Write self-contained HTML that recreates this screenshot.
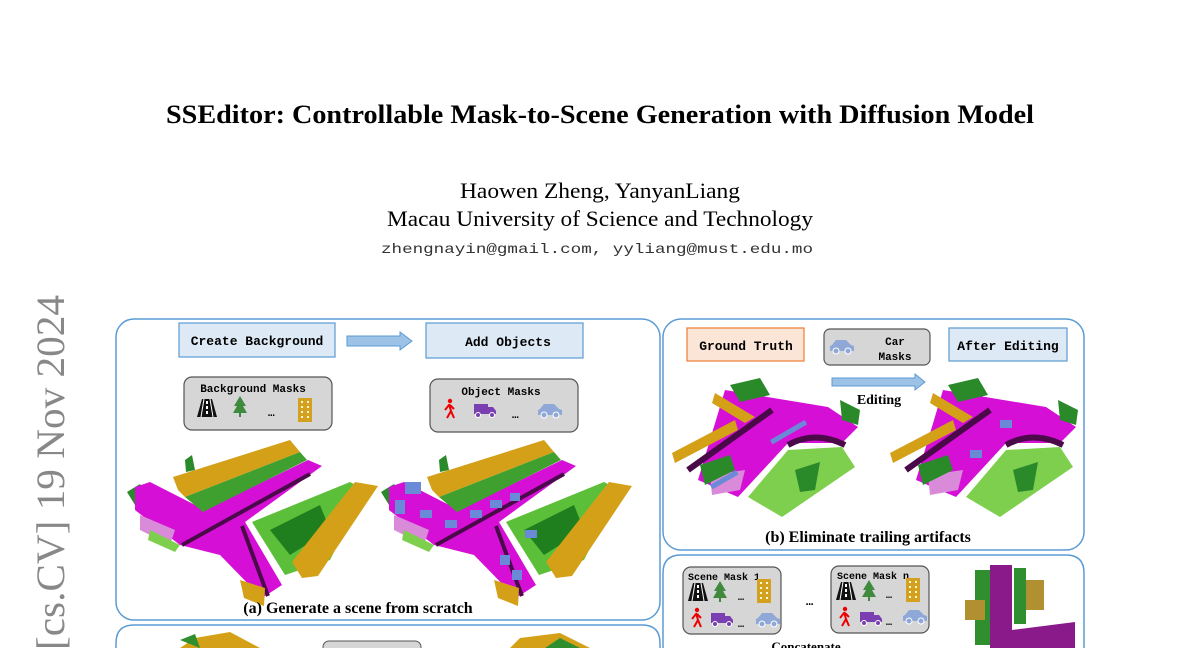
<!DOCTYPE html>
<html><head><meta charset="utf-8"><style>
html,body{margin:0;padding:0;background:#fff;width:1200px;height:648px;overflow:hidden}
svg{display:block}
.mono{font-family:"Liberation Mono","DejaVu Sans Mono",monospace;font-weight:bold}
.serif{font-family:"Liberation Serif",serif}
</style></head><body>
<svg width="1200" height="648" viewBox="0 0 1200 648" xmlns="http://www.w3.org/2000/svg">
<defs>
<g id="sa">
  <polygon points="127,492 140,484 150,500 135,505" fill="#2a8a2a"/>
  <polygon points="135,487 150,482 205,510 308,460 322,466 245,522 282,585 262,598 220,555 180,545 135,510" fill="#d60fd6"/>
  <polyline points="182,545 310,474" stroke="#4a0a4a" stroke-width="4" fill="none"/>
  <polyline points="242,526 268,596" stroke="#4a0a4a" stroke-width="4" fill="none"/>
  <polygon points="173,477 290,440 300,452 185,497 178,490" fill="#d4a017"/>
  <polygon points="185,497 300,452 307,460 203,512" fill="#3f9f2f"/>
  <polygon points="140,515 175,530 170,545 140,530" fill="#d98ad9"/>
  <polygon points="150,530 180,545 175,552 148,540" fill="#7fcf4f"/>
  <polygon points="252,522 350,482 365,490 330,560 285,575" fill="#5cbf3a"/>
  <polygon points="270,530 320,505 330,530 290,555" fill="#1f7f1f"/>
  <polygon points="292,562 355,482 378,486 318,576 302,578" fill="#d4a017"/>
  <polygon points="240,580 265,588 264,606 244,598" fill="#d4a017"/>
  <polygon points="185,460 192,455 195,470 186,472" fill="#2a8a2a"/>
</g>
<g id="sb">
  <polygon points="725,390 828,407 858,427 842,443 788,443 738,497 698,480" fill="#d60fd6"/>
  <polyline points="688,470 772,410" stroke="#4a0a4a" stroke-width="6" fill="none"/>
  <path d="M788,445 Q815,430 845,445" stroke="#4a0a4a" stroke-width="6" fill="none"/>
  <polygon points="788,450 842,447 855,467 782,517 748,497" fill="#7fcf4f"/>
  <polygon points="795,470 820,462 815,490 800,492" fill="#2a8a2a"/>
  <polygon points="672,453 735,420 738,430 675,463" fill="#d4a017"/>
  <polygon points="715,393 755,417 745,423 712,403" fill="#d4a017"/>
  <polygon points="730,385 760,378 770,395 740,402" fill="#2a8a2a"/>
  <polygon points="710,475 745,470 740,490 712,495" fill="#d98ad9"/>
  <polygon points="840,400 860,410 858,425 842,420" fill="#2a8a2a"/>
  <polygon points="700,465 730,455 735,470 705,485" fill="#2a8a2a"/>
</g>
<g id="car"><path d="M2,8 L6,3 L16,3 L21,8 L24,9 L24,14 L0,14 L0,9 Z" fill="#8fa8d8"/><circle cx="6" cy="14" r="3" fill="#8fa8d8" stroke="#fff"/><circle cx="18" cy="14" r="3" fill="#8fa8d8" stroke="#fff"/></g>
<g id="truck"><rect x="0" y="2" width="14" height="10" fill="#7a3fb0"/><path d="M14,5 L19,5 L22,9 L22,12 L14,12Z" fill="#7a3fb0"/><circle cx="4" cy="13" r="2.5" fill="#7a3fb0" stroke="#fff"/><circle cx="18" cy="13" r="2.5" fill="#7a3fb0" stroke="#fff"/></g>
<g id="ped"><circle cx="7" cy="2" r="2.2" fill="#e00"/><path d="M6,5 L8,12 L4,19 M8,12 L11,19 M6,6 L2,11 M7,6 L11,10" stroke="#e00" stroke-width="2" fill="none"/></g>
<g id="road"><path d="M0,18 L5,0 L15,0 L20,18 Z" fill="#111"/><path d="M10,2 L10,17" stroke="#fff" stroke-width="2" stroke-dasharray="3,2"/><path d="M4,18 L7,0" stroke="#fff" stroke-width="1"/><path d="M16,18 L13,0" stroke="#fff" stroke-width="1"/></g>
<g id="tree"><path d="M7,0 L13,10 L10,10 L14,17 L0,17 L4,10 L1,10 Z" fill="#3f8a3f"/><rect x="6" y="17" width="2" height="4" fill="#3f8a3f"/></g>
<g id="bldg"><rect x="0" y="0" width="14" height="24" fill="#d4a020"/><path d="M3,4h2M9,4h2M3,9h2M9,9h2M3,14h2M9,14h2M3,19h2M9,19h2" stroke="#fff8d0" stroke-width="2"/></g>
</defs>

<text x="166" y="123" textLength="868" lengthAdjust="spacingAndGlyphs" class="serif" font-weight="bold" font-size="26">SSEditor: Controllable Mask-to-Scene Generation with Diffusion Model</text>
<text x="460" y="198" textLength="280" lengthAdjust="spacingAndGlyphs" class="serif" font-size="22">Haowen Zheng, YanyanLiang</text>
<text x="387" y="226" textLength="426" lengthAdjust="spacingAndGlyphs" class="serif" font-size="22">Macau University of Science and Technology</text>
<text x="381" y="253" textLength="432" lengthAdjust="spacingAndGlyphs" font-family="Liberation Mono,monospace" font-size="14" fill="#333">zhengnayin@gmail.com, yyliang@must.edu.mo</text>

<text transform="translate(64,650) rotate(-90)" textLength="355" lengthAdjust="spacingAndGlyphs" class="serif" font-size="40" fill="#888">[cs.CV]  19 Nov 2024</text>

<!-- panel a -->
<rect x="116" y="319" width="544" height="301" rx="18" fill="none" stroke="#5b9bd5" stroke-width="1.5"/>
<rect x="179" y="323" width="156" height="34" fill="#dde9f5" stroke="#5b9bd5" stroke-width="1.2"/>
<text x="257" y="345" text-anchor="middle" class="mono" font-size="13">Create Background</text>
<path d="M347,336 L400,336 L400,332 L412,341 L400,350 L400,346 L347,346 Z" fill="#9cc2e5" stroke="#5b9bd5"/>
<rect x="426" y="323" width="157" height="35" fill="#dde9f5" stroke="#5b9bd5" stroke-width="1.2"/>
<text x="508" y="346" text-anchor="middle" class="mono" font-size="13">Add Objects</text>

<rect x="184" y="377" width="148" height="53" rx="8" fill="#d6d6d6" stroke="#555" stroke-width="1.2"/>
<text x="253" y="392" text-anchor="middle" class="mono" font-size="11">Background Masks</text>
<use href="#road" x="197" y="399"/><use href="#tree" x="233" y="396"/>
<text x="268" y="416" class="mono" font-size="11">…</text><use href="#bldg" x="298" y="398"/>
<rect x="430" y="379" width="148" height="53" rx="8" fill="#d6d6d6" stroke="#555" stroke-width="1.2"/>
<text x="501" y="395" text-anchor="middle" class="mono" font-size="11">Object Masks</text>
<use href="#ped" x="443" y="399"/><use href="#truck" x="474" y="402"/>
<text x="512" y="418" class="mono" font-size="11">…</text><use href="#car" x="538" y="401"/>

<use href="#sa"/>
<use href="#sa" x="254"/>
<g fill="#6a8ad8"><rect x="405" y="482" width="16" height="12"/><rect x="395" y="500" width="10" height="14"/><rect x="420" y="510" width="12" height="8"/><rect x="445" y="520" width="12" height="8"/><rect x="470" y="510" width="12" height="8"/><rect x="490" y="500" width="12" height="8"/><rect x="510" y="493" width="10" height="8"/><rect x="525" y="530" width="12" height="8"/><rect x="500" y="555" width="10" height="10"/><rect x="512" y="570" width="10" height="10"/></g>
<text x="358" y="613" text-anchor="middle" class="serif" font-weight="bold" font-size="16">(a) Generate a scene from scratch</text>

<!-- panel a2 -->
<path d="M116,650 L116,643 Q116,625 134,625 L642,625 Q660,625 660,643 L660,650" fill="none" stroke="#5b9bd5" stroke-width="1.5"/>
<rect x="323" y="641" width="98" height="20" rx="6" fill="#d6d6d6" stroke="#555"/>
<polygon points="180,648 195,638 230,632 260,648" fill="#d4a017"/><polygon points="180,640 195,634 200,648" fill="#2f8f2f"/>
<polygon points="510,648 520,638 560,633 590,648" fill="#d4a017"/><polygon points="545,648 560,638 580,648" fill="#2f8f2f"/>

<!-- panel b -->
<rect x="663" y="319" width="421" height="231" rx="18" fill="none" stroke="#5b9bd5" stroke-width="1.5"/>
<rect x="687" y="328" width="117" height="33" fill="#fbe5d6" stroke="#ed7d31" stroke-width="1.2"/>
<text x="746" y="350" text-anchor="middle" class="mono" font-size="13">Ground Truth</text>
<rect x="824" y="329" width="106" height="36" rx="6" fill="#d6d6d6" stroke="#555" stroke-width="1.2"/>
<use href="#car" x="830" y="337"/>
<text x="895" y="345" text-anchor="middle" class="mono" font-size="11">Car</text>
<text x="895" y="360" text-anchor="middle" class="mono" font-size="11">Masks</text>
<rect x="949" y="328" width="118" height="33" fill="#dde9f5" stroke="#5b9bd5" stroke-width="1.2"/>
<text x="1008" y="350" text-anchor="middle" class="mono" font-size="13">After Editing</text>
<path d="M832,378 L915,378 L915,374 L925,382 L915,390 L915,386 L832,386 Z" fill="#9cc2e5" stroke="#5b9bd5"/>
<text x="879" y="404" text-anchor="middle" class="serif" font-weight="bold" font-size="14">Editing</text>
<use href="#sb"/>
<use href="#sb" x="218"/>
<g fill="#6a8ad8"><rect x="770" y="440" width="40" height="5" transform="rotate(-30 770 440)"/><rect x="710" y="485" width="30" height="5" transform="rotate(-30 710 485)"/><rect x="1000" y="420" width="12" height="8"/><rect x="970" y="450" width="12" height="8"/></g>
<text x="868" y="542" text-anchor="middle" class="serif" font-weight="bold" font-size="16">(b) Eliminate trailing artifacts</text>

<!-- panel c -->
<path d="M663,650 L663,573 Q663,555 681,555 L1066,555 Q1084,555 1084,573 L1084,650" fill="none" stroke="#5b9bd5" stroke-width="1.5"/>
<rect x="683" y="567" width="98" height="67" rx="8" fill="#d6d6d6" stroke="#555" stroke-width="1.2"/>
<text x="688" y="580" class="mono" font-size="10">Scene Mask 1</text>
<use href="#road" x="688" y="583"/><use href="#tree" x="713" y="581"/><text x="738" y="600" class="mono" font-size="10">…</text><use href="#bldg" x="757" y="579" />
<use href="#ped" x="690" y="608"/><use href="#truck" x="711" y="611"/><text x="738" y="627" class="mono" font-size="10">…</text><use href="#car" x="756" y="610"/>
<text x="806" y="605" class="mono" font-size="12">…</text>
<rect x="831" y="566" width="98" height="67" rx="8" fill="#d6d6d6" stroke="#555" stroke-width="1.2"/>
<text x="837" y="579" class="mono" font-size="10">Scene Mask n</text>
<use href="#road" x="836" y="582"/><use href="#tree" x="862" y="580"/><text x="886" y="598" class="mono" font-size="10">…</text><use href="#bldg" x="906" y="578"/>
<use href="#ped" x="838" y="607"/><use href="#truck" x="860" y="610"/><text x="886" y="625" class="mono" font-size="10">…</text><use href="#car" x="903" y="607"/>
<text x="806" y="651" text-anchor="middle" class="serif" font-weight="bold" font-size="13">Concatenate</text>
<rect x="990" y="565" width="22" height="83" fill="#8a1a8a"/>
<polygon points="1012,630 1075,622 1075,648 1000,648" fill="#8a1a8a"/>
<rect x="975" y="570" width="15" height="75" fill="#2f8f2f"/>
<rect x="1014" y="568" width="12" height="56" fill="#2f8f2f"/>
<rect x="1026" y="580" width="18" height="30" fill="#b09030"/>
<rect x="965" y="600" width="20" height="20" fill="#b09030"/>
</svg>
</body></html>
